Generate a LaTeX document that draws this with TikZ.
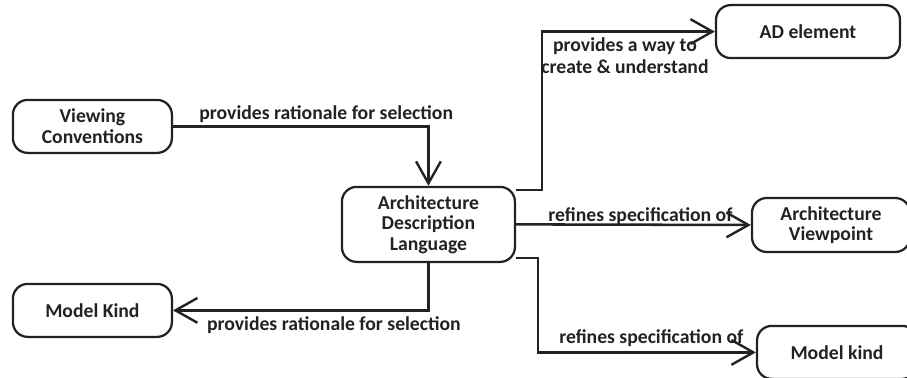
\documentclass[tikz,border=0pt]{standalone}
\usepackage{fontspec}
\setmainfont{Carlito}
\usetikzlibrary{arrows.meta,positioning}
\definecolor{diagramink}{HTML}{222222}

\begin{document}
\begin{tikzpicture}[
  font=\fontsize{14}{14.6}\selectfont\bfseries,
  text=diagramink,
  relation/.style={-{Straight Barb[length=5.5mm,width=6.2mm,line width=1.7pt]},
    line width=1.8pt,draw=diagramink},
  lab/.style={align=center,inner sep=2pt},
  concept/.style={lab,draw=diagramink,line width=1.6pt,rounded corners=3.7mm,
    minimum width=39.75mm,minimum height=13.25mm}
]
\useasboundingbox (0,0) rectangle (22.675,9.45);

% The language sits in the middle; everything it relates to is around it.
\node[concept,minimum width=43.25mm,minimum height=18.75mm] (adl)
  at (10.71,3.84) {Architecture\\Description\\Language};
\node[concept] (conventions) at (2.31,6.29) {Viewing\\Conventions};
\node[concept] (model-kind-left) at (2.31,1.69) {Model Kind};
\node[concept,minimum width=46mm] (ad-element) at (20.2,8.66) {AD element};
\node[concept,minimum width=39.5mm,minimum height=13.5mm] (viewpoint)
  at (20.775,3.825) {Architecture\\Viewpoint};
\node[concept,minimum width=40mm] (model-kind-right)
  at (20.925,0.64) {Model kind};

% Connectors leave the language box at its corners and bend once.
\draw[relation] (conventions.east) -| (adl.north)
  node[lab,pos=.3,above] {provides rationale for selection};
\draw[relation] ([yshift=-1mm]adl.north east) -- ++(.65,0)
  |- (ad-element.west)
  node[lab,pos=.74,below=.5mm,align=center,font=\fontsize{14}{15.6}\selectfont\bfseries]
  {provides a way to\\create \& understand};
\draw[relation] (adl.east) -- (viewpoint.west)
  node[lab,pos=.53,above,yshift=-1mm] {refines specification of};
\draw[relation] ([yshift=1.25mm]adl.south east) -- ++(.55,0)
  |- (model-kind-right.west)
  node[lab,pos=.76,above,yshift=.5mm] {refines specification of};
\draw[relation] (adl.south) |- (model-kind-left.east)
  node[lab,pos=.685,below,yshift=-.5mm] {provides rationale for selection};
\end{tikzpicture}
\end{document}
